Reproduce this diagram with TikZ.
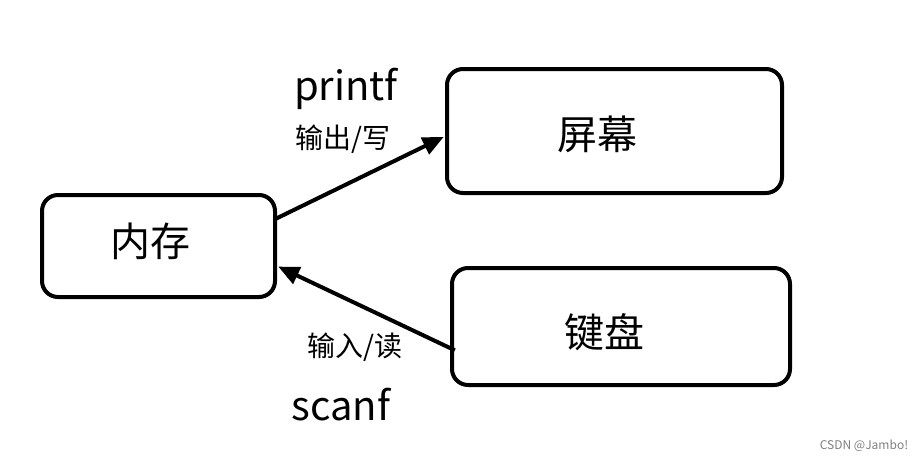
\documentclass[tikz,border=0pt]{standalone}
\usepackage{fontspec}
\setmainfont{Noto Sans CJK SC}
\usetikzlibrary{arrows.meta}
\begin{document}
\begin{tikzpicture}[x=1pt,y=-1pt,
  box/.style={draw=black, line width=4pt, rounded corners=16pt, fill=white},
  boxlabel/.style={font=\fontsize{40}{44}\selectfont, inner sep=0pt},
  fnlabel/.style={font=\fontsize{40}{44}\selectfont, inner sep=0pt},
  cnlabel/.style={font=\fontsize{28}{30}\selectfont, inner sep=0pt},
  conn/.style={line width=4pt, -{Triangle[length=21pt,width=18pt]}}]
\useasboundingbox[fill=white] (0,0) rectangle (922,463);
% boxes
\draw[box] (42,195) rectangle (275,297);
\node[inner sep=0pt, minimum width=233pt, minimum height=102pt] (mem) at (158.5,246) {};
\draw[box] (447,69) rectangle (782,193);
\node[inner sep=0pt, minimum width=335pt, minimum height=124pt] (scr) at (614.5,131) {};
\draw[box] (452,268) rectangle (790,385);
\node[inner sep=0pt, minimum width=338pt, minimum height=117pt] (kbd) at (621,326.5) {};
% box labels
\node[boxlabel] (memt) at (150,241) {内存};
\node[boxlabel] (scrt) at (597,134) {屏幕};
\node[boxlabel] (kbdt) at (604,332) {键盘};
% connectors
\draw[conn] (mem.13.5) -- ([xshift=-3pt]scr.182);
\draw[conn] ([xshift=3pt]kbd.188) -- ([xshift=3pt]mem.-10.7);
% labels
\node[fnlabel] (pf) at (346,89) {printf};
\node[cnlabel] (out) at (343,139) {输出/写};
\node[cnlabel] (in) at (355,347) {输入/读};
\node[fnlabel] (sf) at (341,405) {scanf};
\node[font=\fontsize{12}{13}\selectfont, text=gray, inner sep=0pt] (wm) at (864,446) {CSDN @Jambo!};
\end{tikzpicture}
\end{document}
